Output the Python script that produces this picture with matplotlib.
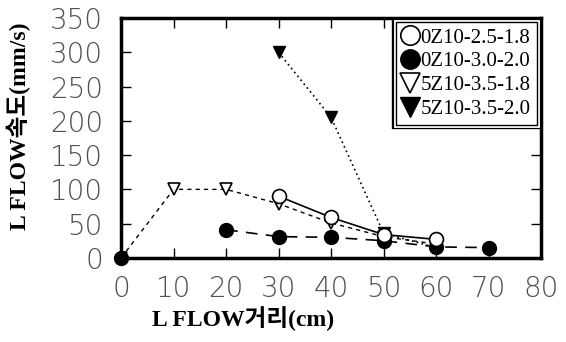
import matplotlib
matplotlib.use("Agg")
import matplotlib.pyplot as plt
import matplotlib.patheffects as pe
from matplotlib.lines import Line2D

# data
x_open_c = [30, 40, 50, 60]
y_open_c = [90, 59, 34, 27]

x_fill_c = [20, 30, 40, 50, 60, 70]
y_fill_c = [41, 31, 30, 25, 16, 15]

x_open_t = [0, 10, 20, 30, 40, 50, 60]
y_open_t = [0, 100, 100, 79, 51, 31, 20]

x_fill_t = [30, 40, 50, 60]
y_fill_t = [300, 205, 36, 15]

labels = ["0Z10-2.5-1.8", "0Z10-3.0-2.0", "5Z10-3.5-1.8", "5Z10-3.5-2.0"]
xticks = [0, 10, 20, 30, 40, 50, 60, 70, 80]
yticks = [0, 50, 100, 150, 200, 250, 300, 350]

serif = ["Liberation Serif", "Noto Sans CJK KR"]

fig = plt.figure(figsize=(5.66, 3.42), dpi=100)
ax = fig.add_axes([0.214, 0.246, 0.742, 0.701])

ax.plot(x_open_t, y_open_t, color="k", ls=(0, (3, 3)), lw=1,
        marker="v", ms=9, mfc="white", mec="k", mew=1.2)
ax.plot(x_fill_c, y_fill_c, color="k", ls=(0, (7, 5)), lw=1.2,
        marker="o", ms=10, mfc="k", mec="k")
ax.plot([0], [0], ls="none", marker="o", ms=10, mfc="k", mec="k", clip_on=False)
ax.plot(x_fill_t, y_fill_t, color="k", ls=(0, (1, 2)), lw=1.2,
        marker="v", ms=9, mfc="k", mec="k")
ax.plot(x_open_c, y_open_c, color="k", ls="-", lw=1.2,
        marker="o", ms=10, mfc="white", mec="k", mew=1.2)

ax.set_xlim(0, 80)
ax.set_ylim(0, 350)
ax.set_xticks(xticks)
ax.set_yticks(yticks)
ax.tick_params(direction="in", length=7, width=1, top=True, right=True,
               labelsize=20, labelcolor="#505050")
ax.tick_params(axis="y", pad=13)
ax.tick_params(axis="x", pad=12)
for lab in ax.get_xticklabels() + ax.get_yticklabels():
    lab.set_fontweight("light")
for s in ax.spines.values():
    s.set_linewidth(2.5)

ax.set_xlabel("L FLOW거리(cm)", family=serif, fontsize=17, fontweight="bold")
ax.xaxis.set_label_coords(0.29, -0.2)
ax.set_ylabel("L FLOW속도(mm/s)", family=serif, fontsize=17, fontweight="bold")
ax.yaxis.set_label_coords(-0.215, 0.55)

handles = [
    Line2D([], [], ls="none", marker="o", ms=14, mfc="white", mec="k", mew=1.2),
    Line2D([], [], ls="none", marker="o", ms=14, mfc="k", mec="k"),
    Line2D([], [], ls="none", marker="v", ms=14, mfc="white", mec="k", mew=1.2),
    Line2D([], [], ls="none", marker="v", ms=14, mfc="k", mec="k"),
]
leg = ax.legend(handles, labels, loc="upper right", bbox_to_anchor=(0.99, 0.985),
                prop={"family": serif, "size": 15}, handlelength=0.8,
                handletextpad=0.1, borderpad=0.3, labelspacing=0.2,
                fancybox=False, framealpha=1, edgecolor="k", borderaxespad=0)
frame = leg.get_frame()
frame.set_linewidth(1)
frame.set_path_effects([pe.Stroke(linewidth=6, foreground="k"),
                        pe.Stroke(linewidth=3.5, foreground="white"),
                        pe.Normal()])

fig.savefig("out.png", dpi=100)
